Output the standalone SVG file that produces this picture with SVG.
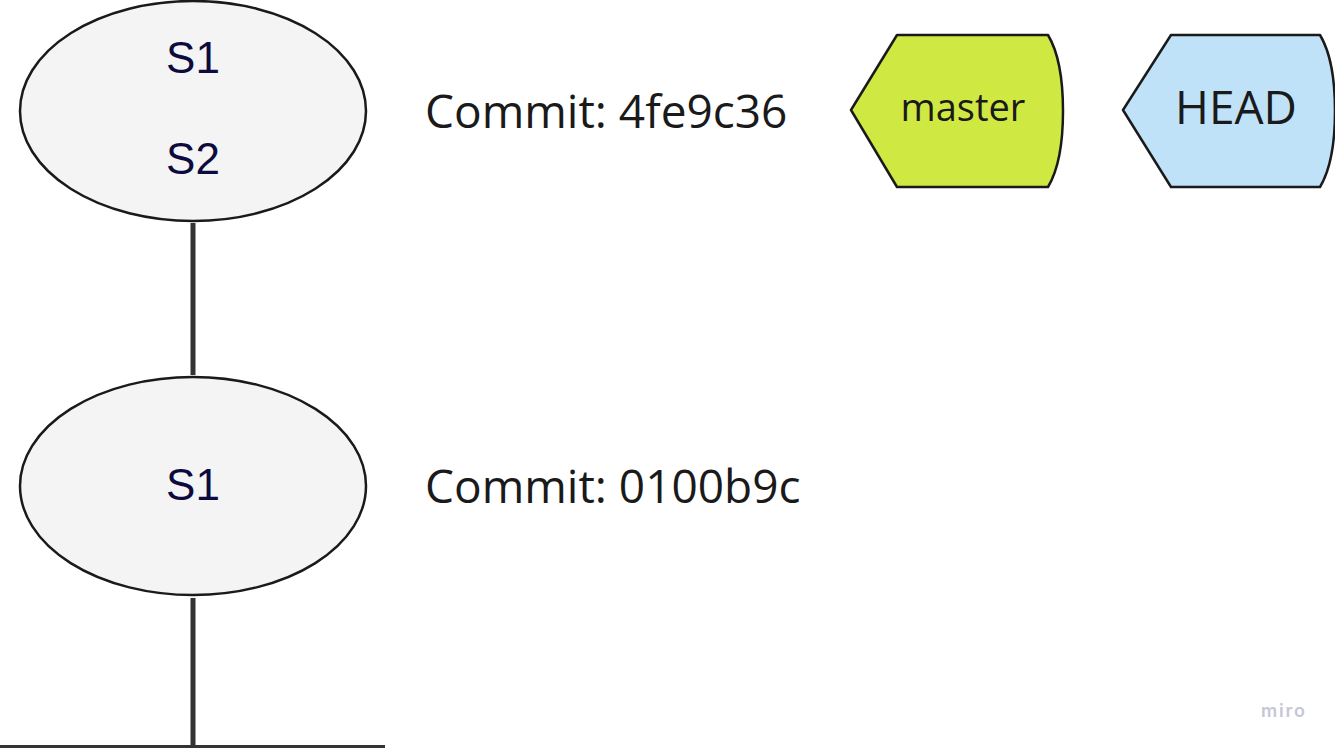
<svg xmlns="http://www.w3.org/2000/svg" width="1335" height="748" viewBox="0 0 1335 748">
<style>
.commit{fill:#f4f4f4;stroke:#1a1a1a;stroke-width:2.5}
.stext{font-family:"Liberation Sans",Arial,sans-serif;font-size:44px;fill:#0d0b3d;text-anchor:middle}
.label{font-family:"Open Sans",sans-serif;font-size:46px;fill:#1a1a1a}
.conn{stroke:#333;stroke-width:5;fill:none}
.tag{stroke:#1a1a1a;stroke-width:2.5;stroke-linejoin:round}
.tagtext{font-family:"Open Sans",sans-serif;fill:#1a1a1a;text-anchor:middle}
</style>
<rect width="1335" height="748" fill="#ffffff"/>
<g id="connectors">
<line class="conn" x1="193" y1="223" x2="193" y2="375"/>
<line class="conn" x1="193" y1="598" x2="193" y2="748"/>
<line x1="0" y1="746.5" x2="385" y2="746.5" stroke="#333" stroke-width="3"/>
</g>
<g id="commit2">
<ellipse class="commit" cx="193" cy="111" rx="173" ry="110"/>
<text class="stext" x="193" y="73">S1</text>
<text class="stext" x="193" y="174">S2</text>
</g>
<g id="commit1">
<ellipse class="commit" cx="193" cy="486" rx="173" ry="109"/>
<text class="stext" x="193" y="500">S1</text>
</g>
<g id="label2">
<text class="label" x="425" y="128">Commit: 4fe9c36</text>
</g>
<g id="label1">
<text class="label" x="425" y="503">Commit: 0100b9c</text>
</g>
<g id="master">
<path class="tag" fill="#d0e842" d="M851,110 L897,35 L1048,35 Q1063,60 1063,111 Q1063,162 1048,187 L897,187 Z"/>
<text class="tagtext" x="963" y="121" font-size="38">master</text>
</g>
<g id="head">
<path class="tag" fill="#c0e2f8" d="M1123,110 L1171,35 L1320,35 Q1335,60 1335,111 Q1335,162 1320,187 L1171,187 Z"/>
<text class="tagtext" x="1236" y="124" font-size="46">HEAD</text>
</g>
<text x="1261" y="717" font-family="Inter,sans-serif" font-size="18" font-weight="600" fill="#c6c6d6" textLength="44" lengthAdjust="spacing">miro</text>
</svg>
